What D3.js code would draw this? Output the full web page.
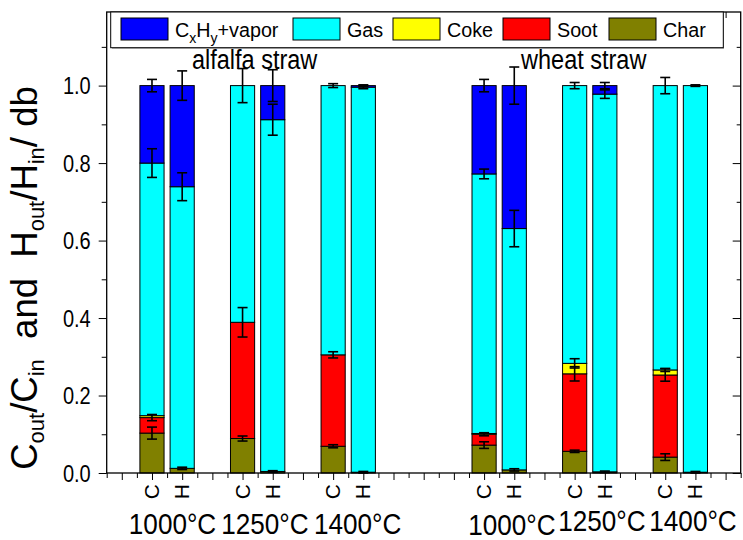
<!DOCTYPE html>
<html>
<head>
<meta charset="utf-8">
<script src="https://cdn.jsdelivr.net/npm/d3@7/dist/d3.min.js"></script>
<style>
  html, body { margin: 0; padding: 0; background: #fff; }
  svg { display: block; font-family: "Liberation Sans", Arial, sans-serif; }
</style>
</head>
<body>
<svg id="chart" width="743" height="540"></svg>
<script>
// Carbon (C) and hydrogen (H) balance of straw pyrolysis, stacked by product fraction
const feedstocks = ["alfalfa straw", "wheat straw"];
const temperatures = ["1000°C", "1250°C", "1400°C", "1000°C", "1250°C", "1400°C"];
const elements = ["C", "H", "C", "H", "C", "H", "C", "H", "C", "H", "C", "H"];
const xPositions = [1, 2, 4, 5, 7, 8, 12, 13, 15, 16, 18, 19];

// fractions (out/in, dry basis)
const charVals  = [0.103, 0.012, 0.089, 0.004, 0.069, 0.002, 0.072, 0.008, 0.056, 0.003, 0.041, 0.002];
const sootVals  = [0.040, 0.000, 0.300, 0.000, 0.236, 0.000, 0.028, 0.000, 0.200, 0.000, 0.212, 0.000];
const cokeVals  = [0.005, 0.000, 0.000, 0.000, 0.000, 0.000, 0.002, 0.000, 0.027, 0.000, 0.013, 0.000];
const gasVals   = [0.652, 0.727, 0.611, 0.908, 0.695, 0.994, 0.670, 0.623, 0.717, 0.975, 0.734, 0.998];
const vaporVals = [0.200, 0.261, 0.000, 0.088, 0.000, 0.004, 0.228, 0.369, 0.000, 0.022, 0.000, 0.000];

// +/- uncertainty drawn at the top of each fraction
const charErr  = [0.0155, 0.003, 0.0065, 0.002, 0.004, 0.002, 0.0085, 0.003, 0.003, 0.002, 0.0086, 0.002];
const sootErr  = [0.008, 0, 0.038, 0, 0.008, 0, 0.004, 0, 0.0185, 0, 0.016, 0];
const cokeErr  = [0, 0, 0, 0, 0, 0, 0, 0, 0.012, 0, 0.004, 0];
const gasErr   = [0.037, 0.036, 0.044, 0.040, 0.005, 0.004, 0.0125, 0.047, 0.008, 0.011, 0.021, 0.002];
const vaporErr = [0.016, 0.038, 0, 0.041, 0, 0.002, 0.016, 0.048, 0, 0.008, 0, 0];

const yTicks = [0.0, 0.2, 0.4, 0.6, 0.8, 1.0];

const series = [
  { key: "char",  name: "Char",  color: "#808000", vals: charVals,  err: charErr },
  { key: "soot",  name: "Soot",  color: "#ff0000", vals: sootVals,  err: sootErr },
  { key: "coke",  name: "Coke",  color: "#ffff00", vals: cokeVals,  err: cokeErr },
  { key: "gas",   name: "Gas",   color: "#00ffff", vals: gasVals,   err: gasErr },
  { key: "vapor", name: "CxHy+vapor", color: "#0000ff", vals: vaporVals, err: vaporErr }
];

const rows = xPositions.map((p, i) => {
  const r = { pos: p, el: elements[i] };
  series.forEach(s => { r[s.key] = s.vals[i]; });
  return r;
});

const svg = d3.select("#chart");
const plotL = 106.7, plotR = 740.7, plotT = 12, plotB = 473;
const narrow = 0.87; // horizontal squeeze of the lettering

const x = d3.scaleLinear().domain([-0.5, 20.5]).range([plotL, plotR]);
const y = d3.scaleLinear().domain([0, 1.19]).range([plotB, plotT]);
const barW = x(0.8) - x(0);

const stacked = d3.stack().keys(series.map(s => s.key))(rows);

// stacked bars
const layers = svg.append("g").selectAll("g")
  .data(stacked).join("g")
  .attr("fill", (d, i) => series[i].color);

layers.selectAll("rect")
  .data(d => d.filter(v => v[1] - v[0] > 0))
  .join("rect")
  .attr("x", d => x(d.data.pos) - barW / 2)
  .attr("width", barW)
  .attr("y", d => y(d[1]))
  .attr("height", d => y(d[0]) - y(d[1]))
  .attr("stroke", "#000")
  .attr("stroke-width", 1);

// error bars
const errData = [];
stacked.forEach((layer, si) => {
  layer.forEach((v, i) => {
    const e = series[si].err[i];
    if (e > 0) errData.push({ pos: v.data.pos, val: v[1], e });
  });
});
const eb = svg.append("g").attr("stroke", "#000").attr("stroke-width", 1.6);
const capW = 5;
errData.forEach(d => {
  const cx = x(d.pos);
  eb.append("line").attr("x1", cx).attr("x2", cx).attr("y1", y(d.val + d.e)).attr("y2", y(d.val - d.e));
  eb.append("line").attr("x1", cx - capW).attr("x2", cx + capW).attr("y1", y(d.val + d.e)).attr("y2", y(d.val + d.e));
  eb.append("line").attr("x1", cx - capW).attr("x2", cx + capW).attr("y1", y(d.val - d.e)).attr("y2", y(d.val - d.e));
});

// axes frame
const axG = svg.append("g");
const yMinorVals = [0.1, 0.3, 0.5, 0.7, 0.9, 1.1];
axG.append("g").attr("transform", `translate(${plotL},0)`)
  .call(d3.axisLeft(y).tickValues(yTicks).tickFormat(d3.format(".1f")).tickSize(8).tickPadding(5))
  .call(g => g.select(".domain").remove())
  .call(g => g.selectAll("text")
    .attr("font-size", 23).attr("fill", "#000")
    .attr("font-family", "Liberation Sans, Arial, sans-serif")
    .attr("x", 0).attr("dy", "0.36em")
    .attr("transform", `translate(-16,0) scale(${narrow},1)`));
axG.append("g").attr("transform", `translate(${plotL},0)`)
  .call(d3.axisLeft(y).tickValues(yMinorVals).tickSize(5).tickFormat(""))
  .call(g => g.select(".domain").remove());
axG.append("g").attr("transform", `translate(${plotR},0)`)
  .call(d3.axisLeft(y).tickValues(yTicks).tickSize(8).tickFormat(""))
  .call(g => g.select(".domain").remove());
axG.append("g").attr("transform", `translate(${plotR},0)`)
  .call(d3.axisLeft(y).tickValues(yMinorVals).tickSize(4).tickFormat(""))
  .call(g => g.select(".domain").remove());

const xMajor = d3.range(0, 21, 1);
const xMinor = d3.range(-0.5, 20.6, 1);
axG.append("g").attr("transform", `translate(0,${plotB})`)
  .call(d3.axisBottom(x).tickValues(xMajor).tickSize(7).tickFormat(""))
  .call(g => g.select(".domain").remove());
axG.append("g").attr("transform", `translate(0,${plotB})`)
  .call(d3.axisBottom(x).tickValues(xMinor).tickSize(5).tickFormat(""))
  .call(g => g.select(".domain").remove());
axG.append("g").attr("transform", `translate(0,${plotT})`)
  .call(d3.axisBottom(x).tickValues(xMajor).tickSize(6).tickFormat(""))
  .call(g => g.select(".domain").remove());
axG.selectAll("line").attr("stroke", "#000").attr("stroke-width", 1);

svg.append("rect").attr("x", plotL).attr("y", plotT).attr("width", plotR - plotL).attr("height", plotB - plotT)
  .attr("fill", "none").attr("stroke", "#000").attr("stroke-width", 1.3);

// element labels under each bar
svg.append("g").selectAll("text").data(rows).join("text")
  .attr("transform", d => `translate(${x(d.pos) + 7},484) rotate(-90)`)
  .attr("text-anchor", "end")
  .attr("font-size", 21)
  .text(d => d.el);

// temperature labels
const tempLabelPos = [1.68, 4.74, 7.81, 12.92, 15.9, 18.92];
const tempBaseline = [534, 534, 534, 535, 531, 531];
svg.append("g").selectAll("text").data(temperatures).join("text")
  .attr("transform", (d, i) => `translate(${x(tempLabelPos[i])},${tempBaseline[i]}) scale(${narrow},1)`)
  .attr("text-anchor", "middle")
  .attr("font-size", 30)
  .text(d => d);

// feedstock labels
const feedPos = [4.4, 15.3];
svg.append("g").selectAll("text").data(feedstocks).join("text")
  .attr("transform", (d, i) => `translate(${x(feedPos[i])},69) scale(${narrow},1)`)
  .attr("text-anchor", "middle")
  .attr("font-size", 27)
  .text(d => d);

// y axis title
const yt = svg.append("text")
  .attr("transform", "translate(37,278) rotate(-90)")
  .attr("text-anchor", "middle")
  .attr("font-size", 36.5)
  .style("white-space", "pre");
const parts = [["C", 0], ["out", 1], ["/C", 0], ["in", 1], ["  and  H", 0], ["out", 1], ["/H", 0], ["in", 1], ["/ db", 0]];
parts.forEach(([t, sub]) => {
  yt.append("tspan").attr("font-size", sub ? 22 : 36.5).attr("dy", sub ? 7 : (t === "C" ? 0 : -7)).text(t);
});

// legend
const lg = svg.append("g");
lg.append("rect").attr("x", 112).attr("y", 14).attr("width", 612).attr("height", 35).attr("fill", "#bbb");
lg.append("rect").attr("x", 110.7).attr("y", 12).attr("width", 612.6).attr("height", 35.7)
  .attr("fill", "#fff").attr("stroke", "#000").attr("stroke-width", 1);
const legendOrder = ["vapor", "gas", "coke", "soot", "char"];
const swatchX = [121, 293, 393, 503, 609];
legendOrder.forEach((k, i) => {
  const s = series.find(d => d.key === k);
  lg.append("rect").attr("x", swatchX[i]).attr("y", 18).attr("width", 47).attr("height", 22)
    .attr("fill", s.color).attr("stroke", "#000").attr("stroke-width", 1);
  const t = lg.append("text")
    .attr("transform", `translate(${swatchX[i] + 54},37) scale(0.94,1)`)
    .attr("font-size", 21);
  if (k === "vapor") {
    t.append("tspan").text("C");
    t.append("tspan").attr("font-size", 15).attr("dy", 6).text("x");
    t.append("tspan").attr("dy", -6).text("H");
    t.append("tspan").attr("font-size", 15).attr("dy", 6).text("y");
    t.append("tspan").attr("dy", -6).text("+vapor");
  } else {
    t.text(s.name);
  }
});
</script>
</body>
</html>
